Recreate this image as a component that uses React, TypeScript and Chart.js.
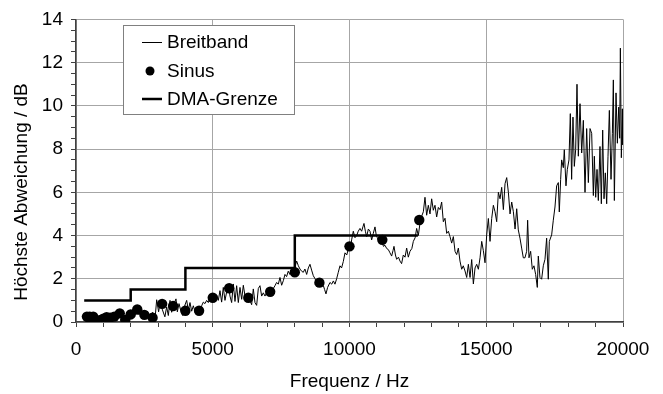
import React, { useEffect, useRef } from "react";
import { Chart, registerables } from "chart.js";

Chart.register(...registerables);

const breitbandHz = [
  400, 500, 600, 700, 800, 900, 1000, 1100, 1200, 1300, 1400, 1500, 1600, 1700, 1800, 1900,
  2000, 2100, 2200, 2300, 2400, 2500, 2600, 2700, 2800, 2900, 2950, 3020, 3070, 3150, 3250,
  3315, 3376, 3437, 3498, 3570, 3656, 3705, 3766, 3827, 3900, 3960, 4046, 4107, 4168, 4229,
  4290, 4360, 4450, 4530, 4594, 4655, 4716, 4777, 4838, 4899, 4960, 5020, 5080, 5142, 5203,
  5264, 5325, 5386, 5447, 5510, 5570, 5630, 5691, 5752, 5813, 5874, 5935, 5996, 6057, 6118,
  6180, 6240, 6300, 6360, 6422, 6483, 6544, 6605, 6666, 6727, 6788, 6849, 6910, 6970, 7030,
  7090, 7153, 7215, 7275, 7336, 7397, 7458, 7519, 7580, 7641, 7700, 7760, 7820, 7900, 7980,
  8068, 8130, 8190, 8250, 8311, 8370, 8434, 8495, 8555, 8615, 8677, 8740, 8799, 8860, 8921,
  8980, 9040, 9090, 9140, 9200, 9286, 9350, 9410, 9469, 9530, 9590, 9652, 9710, 9774, 9835,
  9900, 9981, 10040, 10078, 10139, 10200, 10261, 10320, 10383, 10444, 10490, 10530, 10580,
  10627, 10690, 10749, 10810, 10870, 10932, 10980, 11017, 11060, 11115, 11180, 11240, 11298,
  11360, 11420, 11480, 11541, 11590, 11627, 11680, 11724, 11790, 11846, 11905, 11968, 12030,
  12090, 12150, 12212, 12280, 12334, 12400, 12455, 12516, 12580, 12640, 12700, 12760, 12821,
  12882, 12943, 13004, 13065, 13126, 13187, 13248, 13309, 13370, 13431, 13492, 13553, 13615,
  13675, 13736, 13797, 13858, 13919, 13980, 14040, 14102, 14160, 14224, 14285, 14346, 14407,
  14468, 14529, 14590, 14651, 14712, 14773, 14834, 14894, 14955, 15016, 15077, 15138, 15199,
  15260, 15321, 15382, 15443, 15504, 15565, 15626, 15687, 15748, 15809, 15870, 15931, 15992,
  16053, 16114, 16172, 16233, 16294, 16355, 16416, 16477, 16513, 16562, 16623, 16684, 16745,
  16806, 16867, 16903, 16964, 17025, 17086, 17147, 17208, 17269, 17306, 17391, 17452, 17513,
  17574, 17635, 17671, 17720, 17757, 17818, 17854, 17915, 17964, 18025, 18074, 18122, 18171,
  18220, 18269, 18318, 18367, 18428, 18489, 18550, 18611, 18672, 18733, 18794, 18855, 18916,
  18952, 19001, 19050, 19098, 19159, 19208, 19257, 19306, 19354, 19403, 19452, 19501, 19562,
  19611, 19647, 19684, 19745, 19794, 19843, 19879, 19904, 19940, 19977, 19990,
];

const breitbandDb = [
  0.2, 0.15, 0.25, 0.1, 0.05, 0.1, 0.15, 0.2, 0.15, 0.25, 0.2, 0.3, 0.35, 0.2, 0.15, 0.3,
  0.4, 0.3, 0.5, 0.35, 0.55, 0.3, 0.5, 0.25, 0.45, 0.3, 1.03, 0.47, 0.85, 0.6, 0.24,
  0.7, 0.3, 1.0, 0.45, 0.8, 1.07, 0.47, 0.85, 0.55, 0.3, 0.7, 1.0, 0.55, 0.9, 0.5,
  0.75, 0.45, 0.6, 0.55, 0.75, 0.92, 0.85, 1.0, 0.9, 1.15, 1.05, 1.2, 1.1, 1.25, 1.0,
  1.45, 0.92, 1.6, 1.0, 1.4, 1.75, 1.2, 0.9, 1.76, 0.95, 1.68, 0.9, 1.6, 1.05, 1.7,
  1.2, 0.95, 1.3, 1.0, 0.8, 1.53, 0.9, 0.77, 1.55, 1.68, 1.2, 1.35, 1.2, 1.35, 1.45,
  1.3, 1.45, 1.55, 1.68, 1.83, 1.75, 2.06, 1.7, 1.91, 2.2, 2.1, 2.35, 2.2, 2.35, 2.45,
  2.82, 2.6, 2.45, 2.35, 2.3, 2.45, 2.2, 2.5, 2.67, 2.4, 2.14, 2.0, 1.83, 1.9, 1.8,
  1.65, 1.7, 1.5, 1.3, 1.6, 1.83, 1.75, 1.9, 1.75, 2.0, 2.3, 2.6, 2.5, 2.8, 3.2,
  3.1, 3.5, 3.4, 3.8, 4.2, 3.9, 4.0, 4.2, 4.33, 4.2, 4.4, 4.56, 4.2,
  3.95, 4.3, 4.2, 3.8, 4.1, 4.4, 4.0, 3.9, 3.8, 3.65, 3.75, 3.5, 3.55,
  3.4, 3.35, 3.2, 3.05, 3.3, 3.5, 3.1, 2.9, 3.0, 2.82, 2.7, 3.1, 3.0,
  3.42, 3.0, 3.27, 3.4, 3.73, 3.9, 4.33, 4.0, 4.6, 4.9, 5.1, 5.77, 4.94,
  5.4, 5.0, 5.7, 5.17, 5.4, 4.86, 5.3, 5.2, 5.55, 4.64, 4.8, 4.1, 4.2,
  3.95, 3.65, 3.95, 3.27, 3.12, 3.42, 2.82, 2.44, 2.6, 2.36, 2.06, 2.67, 2.06,
  2.89, 1.76, 2.5, 2.67, 2.44, 2.97, 3.73, 3.3, 2.74, 4.03, 4.79, 3.73, 4.79,
  5.4, 5.1, 4.64, 6.0, 5.7, 6.23, 5.2, 6.4, 6.68, 6.0, 5.0, 5.55, 5.1,
  4.3, 5.24, 4.26, 3.88, 3.42, 2.97, 2.97, 3.27, 4.71, 2.97, 3.27, 2.44, 2.6,
  2.2, 1.6, 3.05, 2.06, 1.98, 2.6, 2.9, 3.88, 1.98, 3.73, 4.03, 4.71, 5.32,
  6.3, 6.45, 5.09, 6.6, 7.5, 7.14, 7.97, 6.3, 7.06, 7.5, 9.64, 6.6, 9.48,
  7.2, 7.97, 11.0, 7.67, 10.1, 7.82, 9.33, 6.0, 8.95, 6.45, 8.95, 8.73, 5.85,
  7.67, 5.77, 7.06, 5.62, 8.12, 5.47, 8.88, 5.7, 6.9, 5.47, 7.67, 9.79, 6.6,
  8.73, 11.2, 5.62, 10.6, 8.27, 9.94, 8.5, 12.67, 7.6, 9.86, 8.2,
];

const sinusHz = [
  400, 450, 500, 560, 630, 710, 800, 900, 1000, 1120, 1250, 1400, 1600, 1800, 2000, 2240,
  2500, 2800, 3150, 3550, 4000, 4500, 5000, 5600, 6300, 7100, 8000, 8900, 10000, 11200, 12550,
];
const sinusDb = [
  0.25, 0.22, 0.25, 0.15, 0.25, 0.1, 0.02, 0.1, 0.15, 0.22, 0.2, 0.25, 0.4, 0.1, 0.35, 0.58,
  0.33, 0.2, 0.84, 0.74, 0.52, 0.52, 1.12, 1.56, 1.12, 1.4, 2.3, 1.82, 3.5, 3.8, 4.72,
];

const dmaHz = [300, 2000, 2000, 4000, 4000, 8000, 8000, 12500];
const dmaDb = [1, 1, 1.5, 1.5, 2.5, 2.5, 4, 4];

const xTickLabels = ["0", "5000", "10000", "15000", "20000"];
const yTickLabels = ["0", "2", "4", "6", "8", "10", "12", "14"];

const legendLabels = ["Breitband", "Sinus", "DMA-Grenze"];
const xTitle = "Frequenz / Hz";
const yTitle = "Höchste Abweichung / dB";

const FONT = "'Liberation Sans', Arial, sans-serif";

const legendPlugin = {
  id: "boxLegend",
  afterDatasetsDraw(chart: any) {
    const ctx = chart.ctx as CanvasRenderingContext2D;
    ctx.save();
    ctx.fillStyle = "#ffffff";
    ctx.fillRect(123, 25, 171, 89);
    ctx.strokeStyle = "#808080";
    ctx.lineWidth = 1;
    ctx.strokeRect(123.5, 25.5, 171, 89);
    ctx.fillStyle = "#000";
    ctx.font = `19px ${FONT}`;
    ctx.textBaseline = "middle";
    ctx.textAlign = "left";
    const rows = [42, 71, 99];
    ctx.strokeStyle = "#000";
    ctx.lineWidth = 1;
    ctx.beginPath();
    ctx.moveTo(142, rows[0] + 0.5);
    ctx.lineTo(162, rows[0] + 0.5);
    ctx.stroke();
    ctx.beginPath();
    ctx.arc(150, rows[1], 4.5, 0, Math.PI * 2);
    ctx.fill();
    ctx.lineWidth = 2.5;
    ctx.beginPath();
    ctx.moveTo(142, rows[2]);
    ctx.lineTo(162, rows[2]);
    ctx.stroke();
    legendLabels.forEach((t, i) => ctx.fillText(t, 167, rows[i] + 1));
    // y-axis title
    ctx.translate(22, 192);
    ctx.rotate(-Math.PI / 2);
    ctx.textAlign = "center";
    ctx.fillText(yTitle, 0, 0);
    ctx.restore();
  },
};

export default function App() {
  const ref = useRef<HTMLCanvasElement | null>(null);

  useEffect(() => {
    document.body.style.margin = "0";
    const canvas = ref.current;
    if (!canvas) return;
    const chart = new Chart(canvas, {
      type: "line",
      data: {
        datasets: [
          {
            label: legendLabels[1],
            data: sinusHz.map((x, i) => ({ x, y: sinusDb[i] })),
            showLine: false,
            pointRadius: 5.2,
            pointBackgroundColor: "#000",
            pointBorderColor: "#000",
            pointBorderWidth: 0,
            order: 1,
          },
          {
            label: legendLabels[0],
            data: breitbandHz.map((x, i) => ({ x, y: breitbandDb[i] })),
            borderColor: "#000",
            borderWidth: 1,
            pointRadius: 0,
            tension: 0,
            order: 3,
          },
          {
            label: legendLabels[2],
            data: dmaHz.map((x, i) => ({ x, y: dmaDb[i] })),
            borderColor: "#000",
            borderWidth: 2.5,
            pointRadius: 0,
            tension: 0,
            order: 2,
          },
        ],
      },
      options: {
        responsive: false,
        animation: false,
        events: [],
        layout: { padding: { left: 0, right: 40, top: 14, bottom: 0 } },
        plugins: { legend: { display: false }, tooltip: { enabled: false } },
        scales: {
          x: {
            type: "linear",
            min: 0,
            max: 20000,
            afterFit: (s: any) => {
              s.height = 72;
            },
            ticks: {
              stepSize: 1000,
              autoSkip: false,
              maxRotation: 0,
              padding: 11,
              color: "#000",
              font: { family: FONT, size: 19 },
              callback: (v: any) => {
                const i = xTickLabels.indexOf(String(v));
                return i >= 0 ? xTickLabels[i] : "";
              },
            },
            grid: {
              color: (c: any) => (c.tick && c.tick.value % 5000 === 0 ? "#a6a6a6" : "rgba(0,0,0,0)"),
              lineWidth: 1,
              tickColor: "#404040",
              tickLength: 5,
            },
            border: { color: "#404040", width: 1.5 },
            title: {
              display: true,
              text: xTitle,
              color: "#000",
              font: { family: FONT, size: 19 },
              padding: { top: 0, bottom: 1 },
            },
          },
          y: {
            type: "linear",
            min: 0,
            max: 14,
            afterFit: (s: any) => {
              s.width = 76;
            },
            ticks: {
              stepSize: 0.5,
              autoSkip: false,
              padding: 8,
              color: "#000",
              font: { family: FONT, size: 19 },
              callback: (v: any) => {
                const i = yTickLabels.indexOf(String(v));
                return i >= 0 ? yTickLabels[i] : "";
              },
            },
            grid: {
              color: (c: any) => (c.tick && c.tick.value % 2 === 0 ? "#a6a6a6" : "rgba(0,0,0,0)"),
              lineWidth: 1,
              tickColor: "#404040",
              tickLength: 5,
            },
            border: { color: "#404040", width: 1.5 },
            title: { display: false },
          },
        },
      },
      plugins: [legendPlugin],
    });
    return () => chart.destroy();
  }, []);

  return <canvas ref={ref} width={663} height={394} style={{ display: "block", width: 663, height: 394 }} />;
}
